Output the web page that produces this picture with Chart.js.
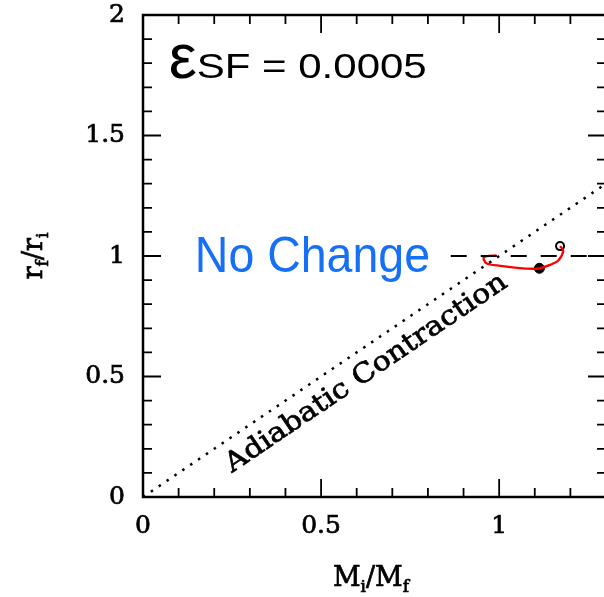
<!DOCTYPE html>
<html>
<head>
<meta charset="utf-8">
<script src="https://cdn.jsdelivr.net/npm/chart.js@4.4.1/dist/chart.umd.min.js"></script>
<style>
  html, body { margin: 0; padding: 0; background: #fff; overflow: hidden; }
  #wrap { width: 604px; height: 597px; overflow: hidden; }
</style>
</head>
<body>
<div id="wrap"><canvas id="plot" width="612" height="597"></canvas></div>
<script>
// Axis ranges and tick labels
const X_RANGE = [0, 1.3];
const Y_RANGE = [0, 2];
const X_TICKS = [0, 0.5, 1];
const Y_TICKS = [0, 0.5, 1, 1.5, 2];

// Adiabatic contraction line (r_f/r_i = M_i/M_f)
const adiabaticX = [0, 1.3];
const adiabaticY = [0, 1.3];

// "No change" reference line
const noChangeX = [0.864, 1.3];
const noChangeY = [1, 1];

// Red track
const trackX = [0.993, 0.957, 0.964, 1.004, 1.050, 1.097, 1.113, 1.143, 1.166, 1.180, 1.171];
const trackY = [1.003, 0.995, 0.970, 0.959, 0.951, 0.947, 0.949, 0.963, 0.981, 1.022, 1.041];

// Start (open) and end (filled) points
const startPt = { x: 1.171, y: 1.041 };
const endPt = { x: 1.113, y: 0.949 };

const zip = (xs, ys) => xs.map((v, i) => ({ x: v, y: ys[i] }));

const TICK_FONT = { family: '"DejaVu Serif"', size: 25 };

// frame, inside ticks, annotations and axis titles
const decor = {
  id: 'decor',
  afterDatasetsDraw(chart) {
    const { ctx, chartArea: a, scales: { x, y } } = chart;
    ctx.save();
    ctx.strokeStyle = '#000';
    ctx.lineWidth = 1.8;
    ctx.beginPath();
    for (let i = 0; i <= 13; i++) {
      const px = x.getPixelForValue(i / 10);
      const len = i % 5 === 0 ? 18 : 9;
      ctx.moveTo(px, a.bottom); ctx.lineTo(px, a.bottom - len);
      ctx.moveTo(px, a.top); ctx.lineTo(px, a.top + len);
    }
    for (let i = 0; i <= 20; i++) {
      const py = y.getPixelForValue(i / 10);
      const len = i % 5 === 0 ? 18 : 9;
      ctx.moveTo(a.left, py); ctx.lineTo(a.left + len, py);
      ctx.moveTo(a.right, py); ctx.lineTo(a.right - len, py);
    }
    ctx.stroke();
    ctx.lineWidth = 2.5;
    ctx.strokeRect(a.left, a.top, a.right - a.left, a.bottom - a.top);

    // epsilon label
    ctx.fillStyle = '#000';
    ctx.textBaseline = 'alphabetic';
    ctx.textAlign = 'left';
    const ex = x.getPixelForValue(0.075), ey = y.getPixelForValue(1.74);
    ctx.font = '63px "Liberation Sans"';
    ctx.fillText('\u03b5', ex - 1, ey);
    ctx.save();
    ctx.translate(ex + 27, ey);
    ctx.scale(1.2, 1);
    ctx.font = '35px "Liberation Sans"';
    ctx.fillText('SF = 0.0005', 0, 0);
    ctx.restore();

    // No Change
    ctx.save();
    ctx.fillStyle = '#1670f5';
    ctx.font = '50px "Liberation Sans"';
    ctx.translate(x.getPixelForValue(0.806), y.getPixelForValue(0.934));
    ctx.scale(0.93, 1);
    ctx.textAlign = 'right';
    ctx.fillText('No Change', 0, 0);
    ctx.restore();

    // serif text a little heavier, like the original plot
    ctx.lineWidth = 0.7;
    const heavy = (t, px, py) => { ctx.fillText(t, px, py); ctx.strokeText(t, px, py); };

    // Adiabatic Contraction along the dotted line
    const p0x = x.getPixelForValue(0), p0y = y.getPixelForValue(0);
    const p1x = x.getPixelForValue(1), p1y = y.getPixelForValue(1);
    const ang = Math.atan2(p1y - p0y, p1x - p0x);
    ctx.save();
    ctx.translate(x.getPixelForValue(0.25), y.getPixelForValue(0.1));
    ctx.rotate(ang);
    ctx.font = '27px "DejaVu Serif"';
    const w = ctx.measureText('Adiabatic Contraction').width;
    ctx.scale(334 / w, 1);
    heavy('Adiabatic Contraction', 0, 0);
    ctx.restore();

    // axis titles with subscripts
    const drawSub = (parts, cx, cy) => {
      let total = 0;
      parts.forEach(p => { ctx.font = p[1]; total += ctx.measureText(p[0]).width; });
      let cur = cx - total / 2;
      parts.forEach(p => {
        ctx.font = p[1];
        heavy(p[0], cur, cy + p[2]);
        cur += ctx.measureText(p[0]).width;
      });
    };
    const big = '27px "DejaVu Serif"', sub = '17px "DejaVu Serif"';
    ctx.textAlign = 'left';
    drawSub([['M', big, 0], ['i', sub, 6], ['/', big, 0], ['M', big, 0], ['f', sub, 6]],
      x.getPixelForValue(0.64), 586);
    ctx.save();
    ctx.translate(42, (a.top + a.bottom) / 2);
    ctx.rotate(-Math.PI / 2);
    drawSub([['r', big, 0], ['f', sub, 6], ['/', big, 0], ['r', big, 0], ['i', sub, 6]], 0, 0);
    ctx.restore();
    ctx.restore();
  }
};

new Chart(document.getElementById('plot'), {
  type: 'scatter',
  data: {
    datasets: [
      {
        data: zip(adiabaticX, adiabaticY),
        showLine: true,
        borderColor: '#000',
        borderWidth: 2.5,
        borderDash: [2.5, 7],
        pointRadius: 0
      },
      {
        data: zip(noChangeX, noChangeY),
        showLine: true,
        borderColor: '#000',
        borderWidth: 2,
        borderDash: [16, 14],
        pointRadius: 0
      },
      {
        data: zip(trackX, trackY),
        showLine: true,
        borderColor: '#ff0000',
        borderWidth: 2.3,
        tension: 0.3,
        pointRadius: 0
      },
      {
        data: [endPt],
        pointRadius: 5,
        pointBackgroundColor: '#000',
        pointBorderColor: '#000'
      },
      {
        data: [startPt],
        pointRadius: 4,
        pointBorderWidth: 2,
        pointBackgroundColor: '#fff',
        pointBorderColor: '#000'
      }
    ]
  },
  options: {
    responsive: false,
    animation: false,
    layout: { padding: { top: 15, right: 2, left: 0, bottom: 0 } },
    plugins: { legend: { display: false }, tooltip: { enabled: false } },
    scales: {
      x: {
        type: 'linear',
        min: X_RANGE[0],
        max: X_RANGE[1],
        grid: { display: false, drawTicks: false },
        border: { display: false },
        afterFit: s => { s.height = 100; s.paddingLeft = 0; s.paddingRight = 0; },
        afterBuildTicks: s => { s.ticks = X_TICKS.map(v => ({ value: v })); },
        ticks: { color: '#000', font: TICK_FONT, padding: 14, textStrokeColor: '#000', textStrokeWidth: 0.7, callback: v => String(v) }
      },
      y: {
        type: 'linear',
        min: Y_RANGE[0],
        max: Y_RANGE[1],
        grid: { display: false, drawTicks: false },
        border: { display: false },
        afterFit: s => { s.width = 143; s.paddingTop = 0; s.paddingBottom = 0; },
        afterBuildTicks: s => { s.ticks = Y_TICKS.map(v => ({ value: v })); },
        ticks: { color: '#000', font: TICK_FONT, padding: 18, textStrokeColor: '#000', textStrokeWidth: 0.7, callback: v => String(v) }
      }
    }
  },
  plugins: [decor]
});
</script>
</body>
</html>
